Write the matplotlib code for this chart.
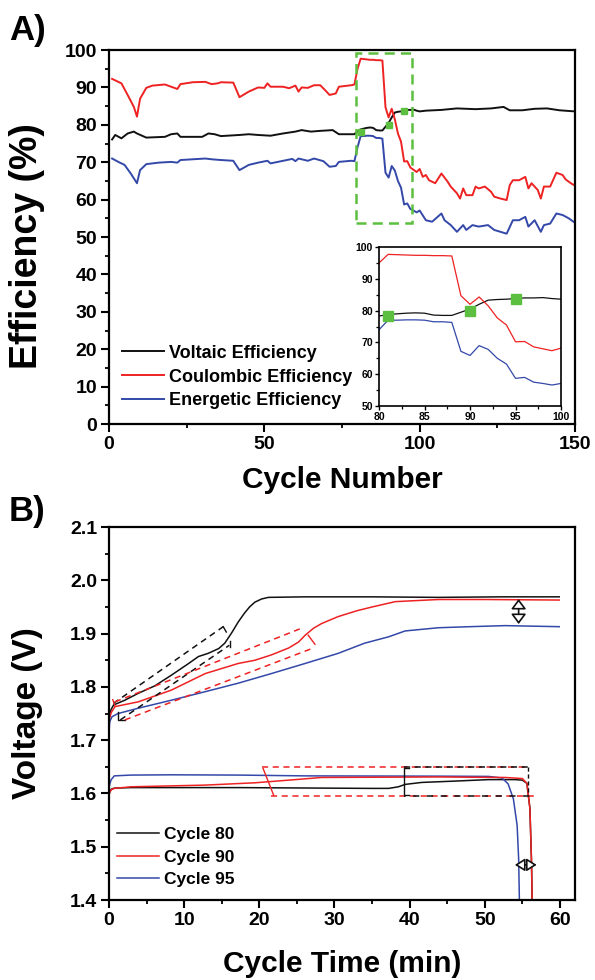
import matplotlib
matplotlib.use('Agg')
import matplotlib.pyplot as plt
from matplotlib.patches import Rectangle, FancyArrowPatch
from matplotlib.ticker import MultipleLocator, FormatStrFormatter

plt.rcParams.update({
    'font.family': ['Liberation Sans', 'DejaVu Sans'],
    'font.weight': 'bold',
    'axes.labelweight': 'bold',
    'axes.linewidth': 1.6,
    'xtick.direction': 'out',
    'ytick.direction': 'out',
})

BLACK = '#111111'
RED = '#ee2222'
BLUE = '#3348a8'
GREEN = '#5cbf3f'

# ---------------- Panel A : efficiencies vs cycle number ----------------
ve_cycle = [1, 2, 4, 6, 8, 9, 12, 18, 20, 22, 23, 30, 32, 34, 36, 42, 45, 48, 52, 56,
            60, 62, 65, 68, 72, 74, 79, 80, 81, 82, 83, 84, 85, 86, 87, 88, 89, 90, 91,
            92, 93, 94, 95, 96, 97, 98, 99, 100, 102, 107, 112, 118, 123, 127, 129, 133,
            137, 141, 145, 150]
ve = [76.1, 77.3, 76.4, 77.7, 78.2, 77.7, 76.6, 76.8, 77.5, 77.7, 76.8, 76.8, 77.7, 77.5,
      77.0, 77.3, 77.5, 77.3, 77.1, 77.7, 78.2, 78.6, 78.2, 78.4, 78.6, 77.5, 77.5, 78.3,
      78.8, 79.0, 79.2, 79.3, 79.2, 78.6, 78.5, 78.5, 79.5, 80.5, 82.0, 83.3, 83.5, 83.6,
      83.8, 84.0, 84.0, 84.1, 83.8, 83.6, 83.8, 84.0, 84.4, 84.2, 84.4, 84.8, 83.9, 83.9,
      84.3, 84.4, 83.9, 83.6]

ce_cycle = [1, 4, 6, 8, 9, 10, 12, 14, 18, 20, 22, 23, 27, 31, 33, 35, 36, 40, 42, 45,
            48, 50, 51, 52, 56, 58, 60, 61, 62, 64, 66, 68, 70, 71, 73, 74, 78, 79, 80, 81,
            82, 83, 84, 85, 86, 87, 88, 89, 90, 91, 92, 93, 94, 95, 96, 97, 98, 99, 100,
            101, 102, 103, 105, 107, 109, 110, 112, 113, 114, 115, 117, 118, 119, 121, 123,
            124, 126, 128, 129, 130, 132, 134, 135, 136, 138, 139, 140, 142, 144, 146, 147,
            149, 150]
ce = [92.3, 91.1, 88.0, 84.8, 82.2, 87.0, 89.9, 90.5, 90.8, 90.2, 89.6, 90.9, 91.4, 91.5,
      90.9, 91.1, 91.4, 91.3, 87.4, 88.9, 90.0, 89.9, 91.1, 90.2, 90.2, 89.8, 90.5, 88.9,
      90.0, 89.9, 90.6, 90.6, 88.9, 88.0, 88.4, 90.2, 90.6, 90.8, 95.0, 97.7, 97.6, 97.5,
      97.4, 97.4, 97.3, 97.3, 97.2, 84.7, 82.0, 84.3, 81.5, 77.7, 75.5, 70.2, 70.3, 68.6,
      68.0, 67.4, 68.2, 66.1, 66.6, 65.2, 64.4, 67.0, 64.8, 63.5, 61.7, 60.3, 63.0, 61.2,
      61.2, 63.5, 63.0, 63.5, 62.1, 60.8, 60.3, 59.9, 63.9, 65.2, 65.2, 66.1, 63.0, 64.4,
      62.6, 60.3, 63.5, 63.5, 67.2, 66.6, 65.4, 64.2, 63.8]

ee_cycle = [1, 3, 5, 7, 9, 10, 12, 16, 20, 22, 23, 31, 33, 36, 40, 42, 45, 48, 51, 52,
            59, 60, 61, 64, 66, 69, 71, 73, 74, 78, 79, 80, 81, 82, 83, 84, 85, 86, 87, 88,
            89, 90, 91, 92, 93, 94, 95, 96, 97, 98, 99, 100, 102, 104, 107, 108, 110, 112,
            114, 115, 117, 119, 122, 124, 126, 128, 130, 132, 134, 135, 137, 139, 140, 142,
            144, 146, 148, 150]
ee = [71.0, 70.1, 69.3, 67.0, 64.4, 67.9, 69.5, 69.9, 70.1, 69.9, 70.6, 71.0, 70.8, 70.6,
      70.4, 67.9, 69.3, 69.9, 70.4, 69.7, 70.9, 70.3, 71.0, 70.4, 71.0, 70.3, 68.8, 69.0,
      70.1, 70.4, 70.3, 74.0, 77.0, 77.0, 77.1, 77.1, 77.0, 76.5, 76.5, 76.3, 67.2, 65.9,
      69.0, 67.8, 65.0, 63.2, 58.7, 59.0, 57.5, 57.1, 56.6, 57.1, 54.5, 54.1, 56.3, 54.5,
      53.2, 51.4, 53.2, 51.9, 53.2, 52.8, 53.2, 51.9, 51.4, 50.9, 54.5, 54.5, 55.4, 52.8,
      54.5, 51.4, 53.2, 53.6, 56.3, 55.9, 55.0, 53.8]

mark_cycle = [81, 90, 95]
mark_ve = [78.2, 80.0, 83.7]

# ---------------- Panel B : voltage vs cycle time ----------------
c80_chg_t = [0, 0.1, 0.3, 0.6, 2.1, 3.9, 6.1, 8.3, 10.6, 11.9, 13.2, 14.6, 15.4, 16.3,
             17.2, 18.0, 18.7, 19.4, 20.3, 21.2, 26.1, 35, 43.8, 52, 59.9]
c80_chg_v = [1.740, 1.750, 1.758, 1.766, 1.775, 1.788, 1.802, 1.822, 1.844, 1.857, 1.863,
             1.872, 1.882, 1.901, 1.922, 1.938, 1.950, 1.959, 1.965, 1.968, 1.969, 1.969,
             1.968, 1.969, 1.969]
c90_chg_t = [0, 0.1, 0.3, 0.8, 3.9, 8.3, 12.8, 17.2, 19.4, 21.6, 23.9, 25.2, 26.1, 27.2,
             28.3, 30.5, 33, 35, 38.1, 43.8, 50, 59.9]
c90_chg_v = [1.728, 1.742, 1.752, 1.763, 1.772, 1.794, 1.825, 1.844, 1.850, 1.860, 1.873,
             1.884, 1.897, 1.910, 1.919, 1.932, 1.943, 1.950, 1.960, 1.964, 1.964, 1.963]
c95_chg_t = [0, 0.1, 0.4, 1.2, 3.9, 8.3, 12.8, 17.2, 21.6, 26.1, 30.5, 34, 37.2, 39.4,
             43.8, 48, 52.7, 59.9]
c95_chg_v = [1.718, 1.735, 1.744, 1.750, 1.760, 1.775, 1.791, 1.807, 1.825, 1.844, 1.863,
             1.882, 1.894, 1.905, 1.911, 1.913, 1.915, 1.913]

c80_dis_t = [0, 0.1, 0.3, 0.7, 2.9, 17.2, 35, 37.2, 38.5, 39.4, 41.6, 46, 50.5, 54, 55,
             55.6, 56.0, 56.2, 56.3]
c80_dis_v = [1.598, 1.603, 1.608, 1.610, 1.611, 1.611, 1.6095, 1.6095, 1.6125, 1.617,
             1.6207, 1.6232, 1.626, 1.626, 1.625, 1.619, 1.572, 1.478, 1.40]
c90_dis_t = [0, 0.1, 0.3, 0.7, 2.9, 12.8, 19.4, 23.9, 28.3, 43.8, 52.7, 55, 55.6, 56.0,
             56.2, 56.3]
c90_dis_v = [1.597, 1.602, 1.607, 1.6095, 1.6125, 1.6157, 1.620, 1.625, 1.630, 1.631,
             1.630, 1.628, 1.619, 1.572, 1.478, 1.40]
c95_dis_t = [0, 0.1, 0.3, 0.7, 2.9, 8.3, 17.2, 26.1, 43.8, 50.5, 52.3, 53.1, 53.8, 54.3,
             54.5, 54.6]
c95_dis_v = [1.608, 1.618, 1.626, 1.633, 1.6345, 1.635, 1.6345, 1.633, 1.6325, 1.632,
             1.629, 1.618, 1.590, 1.540, 1.478, 1.40]


def bold_ticks(ax):
    for lab in ax.get_xticklabels() + ax.get_yticklabels():
        lab.set_fontweight('bold')


def style_axis(ax, size=14, major=5.5, minor=3.0):
    ax.tick_params(which='major', length=major, width=1.5, labelsize=size, pad=3,
                   top=False, right=False)
    ax.tick_params(which='minor', length=minor, width=1.3, top=False, right=False)
    bold_ticks(ax)


fig = plt.figure(figsize=(5.95, 9.8), dpi=100)

# ---- Panel A
axA = fig.add_axes([0.1832, 0.5673, 0.7832, 0.3816])
axA.plot(ve_cycle, ve, color=BLACK, lw=1.4, label='Voltaic Efficiency')
axA.plot(ce_cycle, ce, color=RED, lw=1.4, label='Coulombic Efficiency')
axA.plot(ee_cycle, ee, color=BLUE, lw=1.4, label='Energetic Efficiency')
axA.plot(mark_cycle, mark_ve, ls='', marker='s', ms=4.5, color=GREEN, zorder=5)
axA.add_patch(Rectangle((79.4, 53.8), 18.0, 45.3, fill=False, ec=GREEN, lw=1.8,
                        ls=(0, (4, 2.5)), zorder=6))
axA.set_xlim(0, 150)
axA.set_ylim(0, 100)
axA.xaxis.set_major_locator(MultipleLocator(50))
axA.xaxis.set_minor_locator(MultipleLocator(25))
axA.yaxis.set_major_locator(MultipleLocator(10))
axA.yaxis.set_minor_locator(MultipleLocator(5))
style_axis(axA)
axA.set_xlabel('Cycle Number', fontsize=21.5, va='baseline')
axA.xaxis.set_label_coords(0.5, -0.171)
axA.set_ylabel('Efficiency (%)', fontsize=27, va='center')
axA.yaxis.set_label_coords(-0.175, 0.476)
axA.legend(loc='upper left', bbox_to_anchor=(0.028, 0.212), frameon=False,
           handlelength=2.3, handletextpad=0.3, labelspacing=0.38,
           borderpad=0, borderaxespad=0, prop={'weight': 'bold', 'size': 13})
fig.text(0.015, 0.969, 'A)', fontsize=25, fontweight='bold', va='center')

# ---- inset
axI = fig.add_axes([0.637, 0.5857, 0.3059, 0.1622])
axI.plot(ve_cycle, ve, color=BLACK, lw=0.9)
axI.plot(ce_cycle, ce, color=RED, lw=0.9)
axI.plot(ee_cycle, ee, color=BLUE, lw=0.9)
axI.plot(mark_cycle, mark_ve, ls='', marker='s', ms=6.5, color=GREEN, zorder=5,
         clip_on=False)
axI.set_xlim(80, 100)
axI.set_ylim(50, 100)
axI.xaxis.set_major_locator(MultipleLocator(5))
axI.xaxis.set_minor_locator(MultipleLocator(2.5))
axI.yaxis.set_major_locator(MultipleLocator(10))
axI.yaxis.set_minor_locator(MultipleLocator(5))
for s in axI.spines.values():
    s.set_linewidth(1.2)
axI.tick_params(which='major', length=3, width=1.0, labelsize=7.5, pad=1.5)
axI.tick_params(which='minor', length=2, width=0.9)
bold_ticks(axI)

# ---- Panel B
axB = fig.add_axes([0.1832, 0.0816, 0.7832, 0.3806])
axB.plot(c80_chg_t, c80_chg_v, color=BLACK, lw=1.1, label='Cycle 80')
axB.plot(c90_chg_t, c90_chg_v, color=RED, lw=1.1, label='Cycle 90')
axB.plot(c95_chg_t, c95_chg_v, color=BLUE, lw=1.1, label='Cycle 95')
axB.plot(c80_dis_t, c80_dis_v, color=BLACK, lw=1.1)
axB.plot(c95_dis_t, c95_dis_v, color=BLUE, lw=1.1)
axB.plot(c90_dis_t, c90_dis_v, color=RED, lw=1.1)

dash = (0, (4, 3))
# slope guides on the charge curves
axB.plot([0.58, 15.2], [1.769, 1.913], color=BLACK, lw=1.1, ls=dash)
axB.plot([1.5, 16.0], [1.738, 1.878], color=BLACK, lw=1.1, ls=dash)
axB.plot([15.2, 15.6], [1.913, 1.903], color=BLACK, lw=1.0)
axB.plot([16.1, 16.1], [1.886, 1.874], color=BLACK, lw=1.0)
axB.plot([1.2, 1.2, 2.1], [1.752, 1.738, 1.738], color=BLACK, lw=1.0)
axB.plot([0.8, 25.6], [1.772, 1.910], color=RED, lw=1.1, ls=dash)
axB.plot([2.1, 27.0], [1.738, 1.872], color=RED, lw=1.1, ls=dash)
axB.plot([26.5, 27.4], [1.897, 1.880], color=RED, lw=1.0)
axB.plot([0.5, 0.8], [1.776, 1.764], color=RED, lw=1.0)

# plateau guides on the discharge curves
axB.plot([20.3, 55.8], [1.650, 1.650], color=RED, lw=1.1, ls=dash)
axB.plot([21.6, 56.5], [1.595, 1.595], color=RED, lw=1.1, ls=dash)
axB.plot([20.5, 21.9], [1.647, 1.597], color=RED, lw=1.0)
axB.plot([39.2, 55.8], [1.650, 1.650], color=BLACK, lw=1.1, ls=dash)
axB.plot([39.2, 56.2], [1.596, 1.596], color=BLACK, lw=1.1, ls=(3, (4, 5)))
axB.plot([39.9, 39.25, 39.25, 39.9], [1.648, 1.648, 1.597, 1.597], color=BLACK, lw=1.0)
axB.plot([55.8, 55.8], [1.650, 1.597], color=BLACK, lw=1.0, ls=(0, (3, 2)))

# difference arrows
for a, b, hl, hw in [((54.5, 1.965), (54.5, 1.918), 0.6, 0.45),
                     ((54.0, 1.466), (56.9, 1.466), 0.6, 0.38)]:
    axB.add_patch(FancyArrowPatch(a, b, arrowstyle=f'<|-|>,head_length={hl},head_width={hw}',
                                  mutation_scale=10, fc='white', ec=BLACK, lw=1.2,
                                  shrinkA=0, shrinkB=0, zorder=6))

axB.set_xlim(0, 62)
axB.set_ylim(1.4, 2.1)
axB.xaxis.set_major_locator(MultipleLocator(10))
axB.xaxis.set_minor_locator(MultipleLocator(5))
axB.yaxis.set_major_locator(MultipleLocator(0.1))
axB.yaxis.set_minor_locator(MultipleLocator(0.05))
axB.yaxis.set_major_formatter(FormatStrFormatter('%.1f'))
style_axis(axB)
axB.set_xlabel('Cycle Time (min)', fontsize=21.5, va='baseline')
axB.xaxis.set_label_coords(0.5, -0.192)
axB.set_ylabel('Voltage (V)', fontsize=24, va='center')
axB.yaxis.set_label_coords(-0.175, 0.5)
axB.legend(loc='upper left', bbox_to_anchor=(0.017, 0.195), frameon=False,
           handlelength=2.4, handletextpad=0.3, labelspacing=0.42,
           borderpad=0, borderaxespad=0, prop={'weight': 'bold', 'size': 12.5})
fig.text(0.015, 0.478, 'B)', fontsize=25, fontweight='bold', va='center')

fig.savefig('out.png', dpi=100)
